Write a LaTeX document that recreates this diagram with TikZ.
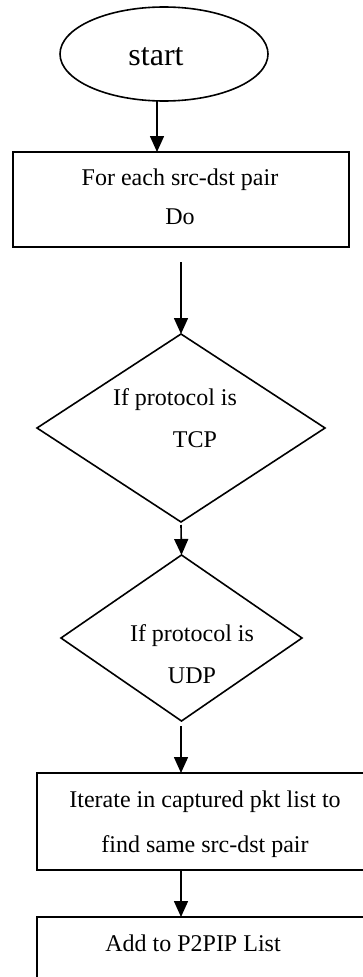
\documentclass[tikz,border=0pt]{standalone}
\usepackage{fontspec}
\setmainfont{Liberation Serif}
\usetikzlibrary{shapes.geometric,arrows.meta}
\begin{document}
\begin{tikzpicture}[x=1pt,y=-1pt,
  shapeline/.style={draw=black,line width=1.6pt,inner sep=0pt,outer sep=0pt},
  terminal/.style={shapeline,ellipse,minimum width=208pt,minimum height=94pt},
  stepbox/.style={shapeline,rectangle},
  decision/.style={shapeline,diamond,inner sep=0pt},
  label/.style={anchor=base,inner sep=0pt,font=\fontsize{24}{28}\selectfont},
  arr/.style={line width=1.6pt,-{Triangle[width=14pt,length=16pt]}}]
\useasboundingbox (0,0) rectangle (363,977);
\clip (0,0) rectangle (363,977);

% start terminal
\node[terminal] (start) at (164,54) {};
\node[label,font=\fontsize{32}{36}\selectfont] (tstart) at (156,65) {start};

% loop over pairs
\node[stepbox,minimum width=336pt,minimum height=95pt] (r1) at (181,199.5) {};
\node[label] (t1a) at (180,185) {For each src-dst pair};
\node[label] (t1b) at (180,224) {Do};

% TCP test
\node[decision,minimum width=288pt,minimum height=188pt] (d1) at (181,428) {};
\node[label] (t2a) at (175,405) {If protocol is};
\node[label] (t2b) at (195,447) {TCP};

% UDP test
\node[decision,minimum width=241pt,minimum height=166pt] (d2) at (181.5,638) {};
\node[label] (t3a) at (192,641) {If protocol is};
\node[label] (t3b) at (192,683) {UDP};

% search captured list
\node[stepbox,minimum width=338pt,minimum height=97pt] (r3) at (206,821.5) {};
\node[label] (t4a) at (205,807) {Iterate in captured pkt list to};
\node[label] (t4b) at (205,852) {find same src-dst pair};

% add to list
\node[stepbox,minimum width=338pt,minimum height=83pt] (r4) at (206,958.5) {};
\node[label] (t5a) at (193,951) {Add to P2PIP List};

% connectors
\coordinate (c1) at (181,262);
\coordinate (c2) at (181,525);
\coordinate (c3) at (181,726);
\draw[arr] ([xshift=-7pt]start.south) -- ([xshift=-7pt]start.south |- r1.north);
\draw[arr] (c1) -- (d1.north);
\draw[arr] (c2) -- (d2.north);
\draw[arr] (c3) -- (c3 |- r3.north);
\draw[arr] (c3 |- r3.south) -- (c3 |- r4.north);
\end{tikzpicture}
\end{document}
